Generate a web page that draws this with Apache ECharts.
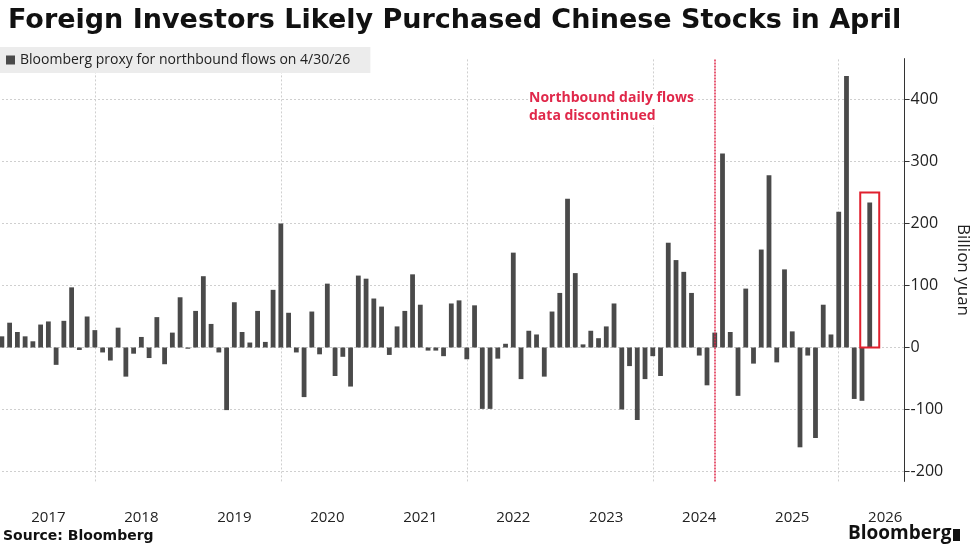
<!DOCTYPE html>
<html><head><meta charset="utf-8">
<script src="https://cdn.jsdelivr.net/npm/echarts@6/dist/echarts.min.js"></script>
<style>html,body{margin:0;padding:0;background:#fff}#c{width:974px;height:548px}</style>
</head><body><div id="c"></div>
<script>
// Monthly flows, Dec 2016 .. Apr 2026 (billion yuan), bars placed at month end
const flows = [18,
 40,25,18,10,37,42,-28,43,97,-4,50,28,
 -8,-21,32,-47,-10,17,-17,49,-27,24,81,-2,59,115,
 38,-8,-101,73,25,8,59,9,93,200,
 56,-8,-80,58,-11,103,-46,-15,-63,116,111,79,
 66,-12,34,59,118,69,-5,-5,-14,71,76,-19,
 68,-99,-99,-18,6,153,-51,27,21,-47,58,88,
 240,120,5,27,15,34,71,-100,-30,-117,-51,-14,
 -46,169,141,122,88,-13,-61,24,313,25,-78,95,
 -26,158,278,-24,126,26,-161,-13,-146,69,21,219,
 438,-83,-86,234];
const extraMonths = 4; // empty axis space after Apr 2026
const yearLabels = ['2017','2018','2019','2020','2021','2022','2023','2024','2025','2026'];
const yTicks = [-200,-100,0,100,200,300,400];
const highlight = [[112, 250]];

const cats = [];
for (let i = 0; i < flows.length + extraMonths; i++) {
  const m = (11 + i) % 12, y = 2016 + Math.floor((11 + i) / 12);
  cats.push(y + '-' + String(m + 1).padStart(2, '0'));
}
const barData = flows.concat(new Array(extraMonths).fill(null));
const labelIdx = {};
yearLabels.forEach(y => { const k = cats.indexOf(y + '-06'); labelIdx[k] = y; });
const vLines = ['2017-12','2019-12','2021-12','2023-12','2025-12'];

const chart = echarts.init(document.getElementById('c'));
chart.setOption({
  animation: false,
  textStyle: { fontFamily: 'Open Sans, DejaVu Sans, sans-serif' },
  title: { text: 'Foreign Investors Likely Purchased Chinese Stocks in April', left: 3, top: 2,
    textStyle: { fontFamily: 'DejaVu Sans', fontWeight: 'bold', fontSize: 27, color: '#111' } },
  legend: { show: true, left: 0, top: 47, padding: [6, 20, 6, 6], itemWidth: 9, itemHeight: 9,
    backgroundColor: '#ececec', itemGap: 4,
    textStyle: { fontSize: 14, color: '#222' }, data: [{ name: 'Bloomberg proxy for northbound flows on 4/30/26', icon: 'rect' }] },
  grid: { left: -2, right: 974 - 904.6, top: 58.6, bottom: 548 - 481.4, outerBoundsMode: 'none', containLabel: false },
  xAxis: { type: 'category', data: cats, boundaryGap: true,
    axisLine: { show: false }, axisTick: { show: false }, splitLine: { show: false },
    axisLabel: { interval: (i) => labelIdx[i] !== undefined, formatter: (v, i) => labelIdx[i] || '',
      fontSize: 15, color: '#222', margin: 29 } },
  yAxis: { type: 'value', position: 'right', min: -216, max: 466, name: 'Billion yuan',
    nameLocation: 'middle', nameRotate: -90, nameGap: 50, nameTextStyle: { fontSize: 17, color: '#222' },
    axisLine: { show: true, lineStyle: { color: '#333' } },
    axisTick: { show: true, customValues: yTicks, length: 5, lineStyle: { color: '#333' } },
    axisLabel: { customValues: yTicks, fontSize: 16, color: '#222', margin: 6 },
    splitLine: { show: true, lineStyle: { color: '#cfcfcf', type: [2, 2] } } },
  series: [{
    type: 'line', data: [], z: 0, silent: true,
    markLine: { silent: true, symbol: 'none', label: { show: false }, z: 0,
      data: vLines.map(v => ({ xAxis: v, lineStyle: { color: '#cfcfcf', type: [2, 2], width: 1 } })) }
  }, {
    name: 'Bloomberg proxy for northbound flows on 4/30/26', type: 'bar', data: barData, z: 3,
    barWidth: 4.8, clip: false, itemStyle: { color: '#4a4a4a' },
    markLine: { silent: true, symbol: 'none', label: { show: false },
      data: [{ xAxis: '2024-08', lineStyle: { color: '#e0284a', type: [2, 1], width: 1.5 } }] }
  }, {
    type: 'custom', data: highlight, silent: true, z: 5,
    renderItem: (params, api) => {
      const p1 = api.coord([api.value(0), api.value(1)]);
      const p0 = api.coord([api.value(0), 0]);
      return { type: 'rect', shape: { x: p1[0] - 9.5, y: p1[1], width: 19, height: p0[1] - p1[1] },
        style: { fill: 'none', stroke: '#e0202e', lineWidth: 2 } };
    }
  }],
  graphic: [
    { type: 'text', left: 529, top: 89, z: 10, style: { text: 'Northbound daily flows\ndata discontinued', fill: '#e0284a',
      font: 'bold 14px "Open Sans", sans-serif', lineHeight: 18, backgroundColor: '#fff' } },
    { type: 'text', left: 3, top: 529, style: { text: 'Source: Bloomberg', fill: '#111', font: 'bold 14px "DejaVu Sans", sans-serif' } },
    { type: 'text', left: 848, top: 524, style: { text: 'Bloomberg', fill: '#111', font: 'bold 19px "Open Sans", sans-serif' } },
    { type: 'rect', left: 953, top: 529, shape: { width: 7, height: 12 }, style: { fill: '#111' } }
  ]
});
</script></body></html>
